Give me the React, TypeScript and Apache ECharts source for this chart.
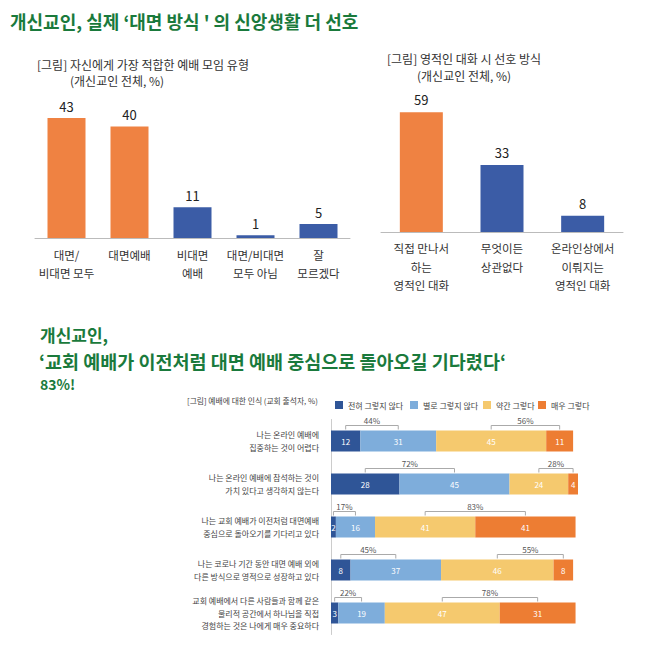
import React, { useEffect, useRef } from "react";
import * as echarts from "echarts";

const FONT = '"Noto Sans CJK KR", "Noto Sans", sans-serif';
const GREEN = "#1a7a3c";

const mainTitle = "개신교인, 실제 ‘대면 방식 ' 의 신앙생활 더 선호";
const subTitleLines = ["개신교인,", "‘교회 예배가 이전처럼 대면 예배 중심으로 돌아오길 기다렸다‘", "83%!"];

const leftTitle = "[그림] 자신에게 가장 적합한 예배 모임 유형";
const leftSubtitle = "(개신교인 전체, %)";
const leftCategories = ["대면/\n비대면 모두", "대면예배", "비대면\n예배", "대면/비대면\n모두 아님", "잘\n모르겠다"];
const leftValues = [43, 40, 11, 1, 5];

const rightTitle = "[그림] 영적인 대화 시 선호 방식";
const rightSubtitle = "(개신교인 전체, %)";
const rightCategories = ["직접 만나서\n하는\n영적인 대화", "무엇이든\n상관없다", "온라인상에서\n이뤄지는\n영적인 대화"];
const rightValues = [59, 33, 8];

const bottomTitle = "[그림] 예배에 대한 인식 (교회 출석자, %)";
const statements = [
  "나는 온라인 예배에\n집중하는 것이 어렵다",
  "나는 온라인 예배에 참석하는 것이\n가치 있다고 생각하지 않는다",
  "나는 교회 예배가 이전처럼 대면예배\n중심으로 돌아오기를 기다리고 있다",
  "나는 코로나 기간 동안 대면 예배 외에\n다른 방식으로 영적으로 성장하고 있다",
  "교회 예배에서 다른 사람들과 함께 같은\n물리적 공간에서 하나님을 직접\n경험하는 것은 나에게 매우 중요하다",
];
const legendNames = ["전혀 그렇지 않다", "별로 그렇지 않다", "약간 그렇다", "매우 그렇다"];
const notAtAll = [12, 28, 2, 8, 3];
const notReally = [31, 45, 16, 37, 19];
const somewhat = [45, 24, 41, 46, 47];
const very = [11, 4, 41, 8, 31];
const negativeTotals = [44, 72, 17, 45, 22];
const positiveTotals = [56, 28, 83, 55, 78];

const ORANGE = "#ef8242";
const BLUE = "#3b5ca6";
const segColors = ["#2f5597", "#7eaddb", "#f5c96e", "#ed7d33"];
const legendLefts = [330, 405, 478, 533];

export default function App() {
  const ref = useRef<HTMLDivElement>(null);
  useEffect(() => {
    if (!ref.current) return;
    const chart = echarts.init(ref.current, null, { renderer: "svg" });

    const segs = [notAtAll, notReally, somewhat, very];
    const bracketData: any[] = [];
    statements.forEach((_, i) => {
      const a = notAtAll[i], b = notReally[i], c = somewhat[i], d = very[i];
      bracketData.push([i, a / 2, a + b / 2, negativeTotals[i]]);
      bracketData.push([i, a + b + c / 2, a + b + c + d / 2, positiveTotals[i]]);
    });

    const option: any = {
      animation: false,
      backgroundColor: "#ffffff",
      textStyle: { fontFamily: FONT },
      graphic: [
        { type: "text", x: 10, y: 21, style: { text: mainTitle, fill: GREEN, font: `bold 18px ${FONT}`, verticalAlign: "middle" } },
        { type: "text", x: 40, y: 334, style: { text: subTitleLines[0], fill: GREEN, font: `bold 17px ${FONT}`, verticalAlign: "middle" } },
        { type: "text", x: 39, y: 361, style: { text: subTitleLines[1], fill: GREEN, font: `bold 18.5px ${FONT}`, verticalAlign: "middle" } },
        { type: "text", x: 40, y: 384, style: { text: subTitleLines[2], fill: GREEN, font: `bold 14px ${FONT}`, verticalAlign: "middle" } },
        { type: "text", x: 37, y: 64, style: { text: leftTitle, fill: "#333", font: `12px ${FONT}`, verticalAlign: "middle" } },
        { type: "text", x: 70, y: 80.5, style: { text: leftSubtitle, fill: "#333", font: `12px ${FONT}`, verticalAlign: "middle" } },
        { type: "text", x: 387, y: 58, style: { text: rightTitle, fill: "#333", font: `12px ${FONT}`, verticalAlign: "middle" } },
        { type: "text", x: 417, y: 75, style: { text: rightSubtitle, fill: "#333", font: `12px ${FONT}`, verticalAlign: "middle" } },
        { type: "text", x: 187, y: 400, style: { text: bottomTitle, fill: "#444", font: `7.8px ${FONT}`, verticalAlign: "middle" } },
      ],
      legend: legendNames.map((n, k) => ({
        left: legendLefts[k],
        top: 396,
        itemWidth: 8,
        itemHeight: 8,
        icon: "rect",
        data: [n],
        textStyle: { fontSize: 8, color: "#444", fontFamily: FONT },
      })),
      grid: [
        { left: 35, top: 98.5, width: 315, height: 139.5 },
        { left: 381, top: 90, width: 242, height: 142 },
        { left: 331, top: 419.5, width: 247, height: 215 },
      ],
      xAxis: [
        {
          type: "category", gridIndex: 0, data: leftCategories,
          axisLine: { lineStyle: { color: "#bbb" } }, axisTick: { show: false },
          axisLabel: { interval: 0, fontSize: 11.5, color: "#333", lineHeight: 18, margin: 8 },
        },
        {
          type: "category", gridIndex: 1, data: rightCategories,
          axisLine: { lineStyle: { color: "#bbb" } }, axisTick: { show: false },
          axisLabel: { interval: 0, fontSize: 11.5, color: "#333", lineHeight: 18.5, margin: 7 },
        },
        { type: "value", gridIndex: 2, min: 0, max: 101, show: false },
      ],
      yAxis: [
        { type: "value", gridIndex: 0, min: 0, max: 50, show: false },
        { type: "value", gridIndex: 1, min: 0, max: 70, show: false },
        {
          type: "category", gridIndex: 2, data: statements, inverse: true,
          axisLine: { lineStyle: { color: "#ccc" } }, axisTick: { show: false },
          axisLabel: { fontSize: 8, color: "#444", lineHeight: 12.5, margin: 12 },
        },
      ],
      series: [
        {
          type: "bar", xAxisIndex: 0, yAxisIndex: 0, data: leftValues, barWidth: 38,
          itemStyle: { color: (p: any) => (p.dataIndex < 2 ? ORANGE : BLUE) },
          label: { show: true, position: "top", distance: 5, fontSize: 13, color: "#222" },
        },
        {
          type: "bar", xAxisIndex: 1, yAxisIndex: 1, data: rightValues, barWidth: 43,
          itemStyle: { color: (p: any) => (p.dataIndex < 1 ? ORANGE : BLUE) },
          label: { show: true, position: "top", distance: 6, fontSize: 13, color: "#222" },
        },
        ...segs.map((arr, k) => ({
          type: "bar", name: legendNames[k], xAxisIndex: 2, yAxisIndex: 2, stack: "total",
          data: arr, barWidth: 21, itemStyle: { color: segColors[k] },
          label: { show: true, position: "inside", fontSize: 8, color: "#fff" },
        })),
        {
          type: "custom", xAxisIndex: 2, yAxisIndex: 2, data: bracketData,
          encode: { x: [1, 2], y: 0 },
          renderItem: (params: any, api: any) => {
            const cat = api.value(0);
            const p1 = api.coord([api.value(1), cat]);
            const p2 = api.coord([api.value(2), cat]);
            const top = p1[1] - 10.5;
            return {
              type: "group",
              children: [
                {
                  type: "polyline",
                  shape: { points: [[p1[0], top - 1], [p1[0], top - 5], [p2[0], top - 5], [p2[0], top - 1]] },
                  style: { stroke: "#aaa", fill: null, lineWidth: 1 },
                },
                {
                  type: "text",
                  x: (p1[0] + p2[0]) / 2,
                  y: top - 10,
                  style: { text: api.value(3) + "%", fill: "#555", fontSize: 8, fontFamily: FONT, align: "center", verticalAlign: "middle" },
                },
              ],
            };
          },
        },
      ],
    };
    chart.setOption(option);
    return () => chart.dispose();
  }, []);
  return <div ref={ref} style={{ position: "absolute", left: 0, top: 0, width: 654, height: 645 }} />;
}
